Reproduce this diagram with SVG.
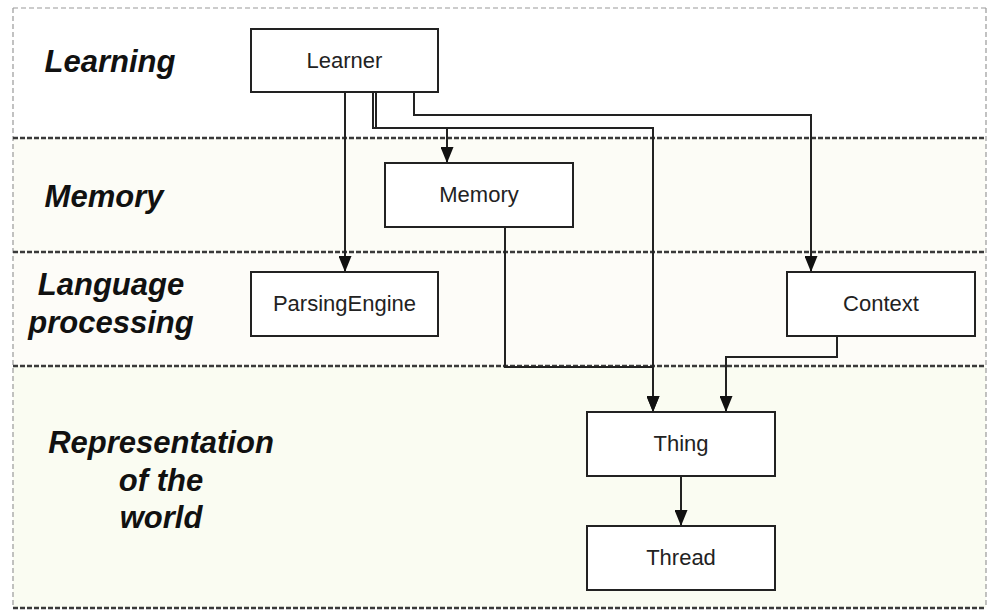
<svg xmlns="http://www.w3.org/2000/svg" width="989" height="611" viewBox="0 0 989 611">
<defs>
<marker id="arr" markerWidth="16" markerHeight="13" refX="16" refY="6.5" orient="auto" markerUnits="userSpaceOnUse" viewBox="0 0 16 13">
<path d="M0,0 L16,6.5 L0,13 Z" fill="#111"/>
</marker>
<style>
.lane-label{font-family:"Liberation Sans",Arial,sans-serif;font-weight:bold;font-style:italic;font-size:31px;fill:#111;text-anchor:middle}
.node rect{fill:#fff;stroke:#222;stroke-width:2}
.node text{font-family:"Liberation Sans",Arial,sans-serif;font-size:22px;fill:#222;text-anchor:middle}
.edge{fill:none;stroke:#222;stroke-width:2}
.divider{stroke:#3a3a3a;stroke-width:2.4;stroke-dasharray:5 2;fill:none}
.border{stroke:#999;stroke-width:1.2;stroke-dasharray:5 3;fill:none}
</style>
</defs>
<rect width="989" height="611" fill="#fff"/>
<g id="lanes">
<rect x="13" y="8" width="973" height="130" fill="#ffffff"/>
<rect x="13" y="138" width="973" height="114" fill="#fcfcf6"/>
<rect x="13" y="252" width="973" height="114" fill="#fdfcf8"/>
<rect x="13" y="366" width="973" height="242" fill="#fafcf2"/>
<line class="border" x1="13" y1="8" x2="986" y2="8"/>
<line class="border" x1="13" y1="8" x2="13" y2="608"/>
<line class="border" x1="986" y1="8" x2="986" y2="608"/>
<line class="divider" x1="13" y1="138" x2="986" y2="138"/>
<line class="divider" x1="13" y1="252" x2="986" y2="252"/>
<line class="divider" x1="13" y1="366" x2="986" y2="366"/>
<line class="divider" x1="13" y1="608" x2="986" y2="608"/>
<text class="lane-label" x="110" y="72">Learning</text>
<text class="lane-label" x="104" y="207">Memory</text>
<text class="lane-label" x="111" y="295">Language</text>
<text class="lane-label" x="111" y="333">processing</text>
<text class="lane-label" x="161" y="453">Representation</text>
<text class="lane-label" x="161" y="491">of the</text>
<text class="lane-label" x="161" y="528">world</text>
</g>
<g id="connectors">
<polyline class="edge" points="345,92 345,272" marker-end="url(#arr)"/>
<polyline class="edge" points="373,92 373,128 447,128 447,163" marker-end="url(#arr)"/>
<polyline class="edge" points="376,92 376,128 653,128 653,412" marker-end="url(#arr)"/>
<polyline class="edge" points="414,92 414,115 811,115 811,272" marker-end="url(#arr)"/>
<polyline class="edge" points="505,227 505,367 653,367 653,412" marker-end="url(#arr)"/>
<polyline class="edge" points="837,336 837,357 726,357 726,412" marker-end="url(#arr)"/>
<polyline class="edge" points="681,476 681,526" marker-end="url(#arr)"/>
</g>
<g id="node-learner" class="node"><rect x="251" y="29" width="187" height="63"/><text x="344.5" y="68">Learner</text></g>
<g id="node-memory" class="node"><rect x="385" y="163" width="188" height="64"/><text x="479" y="202">Memory</text></g>
<g id="node-parsingengine" class="node"><rect x="251" y="272" width="187" height="64"/><text x="344.5" y="311">ParsingEngine</text></g>
<g id="node-context" class="node"><rect x="787" y="272" width="188" height="64"/><text x="881" y="311">Context</text></g>
<g id="node-thing" class="node"><rect x="587" y="412" width="188" height="64"/><text x="681" y="451">Thing</text></g>
<g id="node-thread" class="node"><rect x="587" y="526" width="188" height="64"/><text x="681" y="565">Thread</text></g>
</svg>
